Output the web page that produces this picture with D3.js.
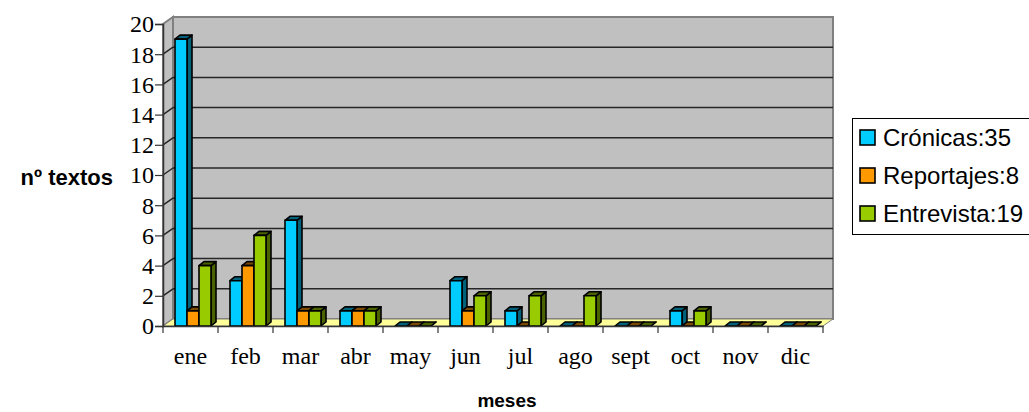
<!DOCTYPE html>
<html>
<head>
<meta charset="utf-8">
<script src="https://cdn.jsdelivr.net/npm/d3@7"></script>
<style>
  body { margin: 0; background: #fff; }
  #chart-container { width: 1029px; height: 412px; }
  .tick-label { font-family: "Liberation Serif", "Times New Roman", serif; font-size: 24px; fill: #000; }
  .axis-title { font-family: "Liberation Sans", Arial, sans-serif; font-weight: bold; fill: #000; }
  .legend-text { font-family: "Liberation Sans", Arial, sans-serif; font-size: 24px; fill: #000; }
</style>
</head>
<body>
<div id="chart-container"></div>
<script>
// Chart values.
const meses = ["ene", "feb", "mar", "abr", "may", "jun", "jul", "ago", "sept", "oct", "nov", "dic"];
const cronicas = [19, 3, 7, 1, 0, 3, 1, 0, 0, 1, 0, 0];
const reportajes = [1, 4, 1, 1, 0, 1, 0, 0, 0, 0, 0, 0];
const entrevista = [4, 6, 1, 1, 0, 2, 2, 2, 0, 1, 0, 0];
const seriesNames = ["Crónicas", "Reportajes", "Entrevista"];
const yTicks = [0, 2, 4, 6, 8, 10, 12, 14, 16, 18, 20];

// Styles.
const fronts = ["#00ccff", "#ff9900", "#99cc00"];
const shades = ["#00617a", "#7a4a00", "#4a6300"];

const fWidth = 1029, fHeight = 412;
const plot = { left: 163, right: 823, top: 24, bottom: 326 };
const depth = { dx: 10, dy: -7 };     // wall depth
const barDepth = { dx: 5, dy: -4 };   // column depth

const series = [cronicas, reportajes, entrevista];

const svg = d3.select("#chart-container").append("svg")
  .attr("width", fWidth)
  .attr("height", fHeight);

// Scales.
const xScale = d3.scaleBand()
  .domain(meses)
  .range([plot.left, plot.right]);

const xSub = d3.scaleBand()
  .domain(seriesNames)
  .range([12, 48]);

const yScale = d3.scaleLinear()
  .domain([0, 20])
  .range([plot.bottom, plot.top]);

const y0 = yScale(0), yTop = yScale(20);
const pt = (x, y) => `${x},${y}`;

// Back wall.
svg.append("rect")
  .attr("x", plot.left + depth.dx)
  .attr("y", yTop + depth.dy)
  .attr("width", plot.right - plot.left)
  .attr("height", y0 - yTop)
  .attr("fill", "#c0c0c0")
  .attr("stroke", "#808080")
  .attr("stroke-width", 2);

// Side wall.
svg.append("polygon")
  .attr("points", [pt(plot.left, yTop), pt(plot.left + depth.dx, yTop + depth.dy),
    pt(plot.left + depth.dx, y0 + depth.dy), pt(plot.left, y0)].join(" "))
  .attr("fill", "#c0c0c0")
  .attr("stroke", "#808080")
  .attr("stroke-width", 2);

// Floor.
svg.append("polygon")
  .attr("points", [pt(plot.left, y0), pt(plot.left + depth.dx, y0 + depth.dy),
    pt(plot.right + depth.dx, y0 + depth.dy), pt(plot.right, y0)].join(" "))
  .attr("fill", "#ffff99")
  .attr("stroke", "#808080")
  .attr("stroke-width", 1);

// Gridlines on back wall and side wall.
const grid = svg.append("g").attr("stroke", "#262626").attr("stroke-width", 1.5);
grid.selectAll(".grid-back")
  .data(yTicks.filter(d => d > 0 && d < 20))
  .enter()
  .append("line")
    .attr("x1", plot.left + depth.dx)
    .attr("x2", plot.right + depth.dx)
    .attr("y1", d => yScale(d) + depth.dy)
    .attr("y2", d => yScale(d) + depth.dy);

grid.selectAll(".grid-side")
  .data(yTicks.filter(d => d > 0 && d < 20))
  .enter()
  .append("line")
    .attr("x1", plot.left)
    .attr("x2", plot.left + depth.dx)
    .attr("y1", d => yScale(d))
    .attr("y2", d => yScale(d) + depth.dy);

// Bars.
const bars = svg.append("g")
  .attr("stroke", "#000")
  .attr("stroke-width", 1.6)
  .attr("stroke-linejoin", "round");

meses.forEach((m, i) => {
  series.forEach((vals, s) => {
    const x = xScale(m) + xSub(seriesNames[s]);
    const w = xSub.bandwidth();
    const yv = yScale(vals[i]);
    const g = bars.append("g");
    g.append("polygon")
      .attr("points", [pt(x + w, yv), pt(x + w + barDepth.dx, yv + barDepth.dy),
        pt(x + w + barDepth.dx, y0 + barDepth.dy), pt(x + w, y0)].join(" "))
      .attr("fill", shades[s]);
    g.append("polygon")
      .attr("points", [pt(x, yv), pt(x + barDepth.dx, yv + barDepth.dy),
        pt(x + w + barDepth.dx, yv + barDepth.dy), pt(x + w, yv)].join(" "))
      .attr("fill", shades[s]);
    g.append("rect")
      .attr("x", x)
      .attr("y", yv)
      .attr("width", w)
      .attr("height", y0 - yv)
      .attr("fill", fronts[s]);
  });
});

// Y axis.
const yAxis = svg.append("g")
  .attr("transform", `translate(${plot.left} 0)`)
  .call(d3.axisLeft(yScale).tickValues(yTicks).tickSize(8).tickPadding(1).tickFormat(d3.format("d")));
yAxis.attr("font-family", "Liberation Serif, serif").attr("font-size", 24);
yAxis.select(".domain").attr("stroke", "#333").attr("stroke-width", 1.5);
yAxis.selectAll(".tick line").attr("stroke", "#333").attr("stroke-width", 1.2);
yAxis.selectAll(".tick text")
  .attr("class", "tick-label")
  .attr("dy", "0.33em");

// X axis.
const xAxis = svg.append("g")
  .attr("transform", `translate(0 ${y0})`)
  .call(d3.axisBottom(xScale).tickSize(0).tickPadding(21));
xAxis.attr("font-family", "Liberation Serif, serif").attr("font-size", 24);
xAxis.select(".domain").attr("stroke", "#333").attr("stroke-width", 1.5);
xAxis.selectAll(".tick text").attr("class", "tick-label");

xAxis.selectAll(".band-tick")
  .data(meses.map(m => xScale(m)).concat([plot.right]))
  .enter()
  .append("line")
    .attr("x1", d => d)
    .attr("x2", d => d)
    .attr("y1", 0)
    .attr("y2", 7)
    .attr("stroke", "#333")
    .attr("stroke-width", 1.2);

// Axis titles.
svg.append("text")
  .attr("class", "axis-title")
  .attr("x", 113)
  .attr("y", 185)
  .attr("font-size", 22)
  .attr("text-anchor", "end")
  .text("nº textos");

svg.append("text")
  .attr("class", "axis-title")
  .attr("x", 507)
  .attr("y", 407)
  .attr("font-size", 19)
  .attr("text-anchor", "middle")
  .text("meses");

// Legend.
const legend = svg.append("g").attr("transform", "translate(852 118)");
legend.append("rect")
  .attr("x", 0.5)
  .attr("y", 0.5)
  .attr("width", 200)
  .attr("height", 116)
  .attr("fill", "#fff")
  .attr("stroke", "#000")
  .attr("stroke-width", 1);

const items = legend.selectAll(".legend-item")
  .data(seriesNames)
  .enter()
  .append("g")
    .attr("transform", (d, i) => `translate(8 ${12 + i * 38})`);

items.append("rect")
  .attr("width", 15)
  .attr("height", 15)
  .attr("fill", (d, i) => fronts[i])
  .attr("stroke", "#000")
  .attr("stroke-width", 1.6);

items.append("text")
  .attr("class", "legend-text")
  .attr("x", 23)
  .attr("y", 16)
  .text((d, i) => `${d}:${d3.sum(series[i])}`);
</script>
</body>
</html>
